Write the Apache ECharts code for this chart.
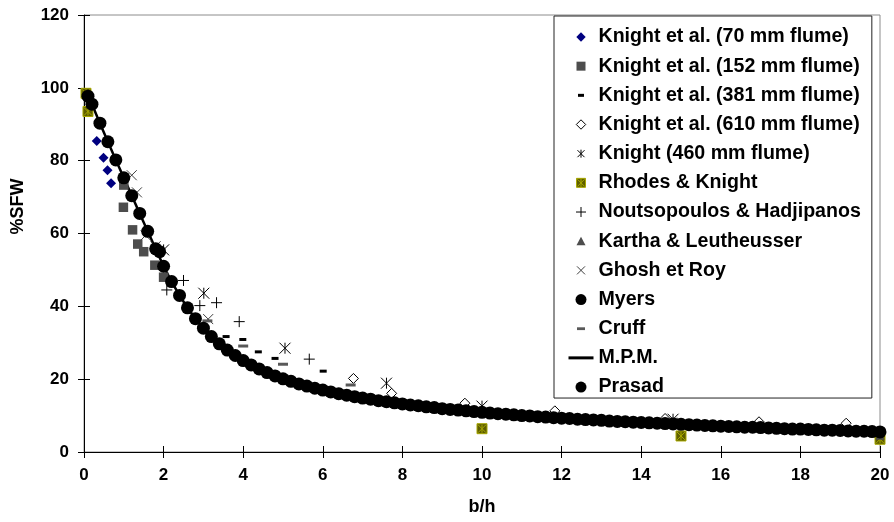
<!DOCTYPE html>
<html><head><meta charset="utf-8">
<script src="https://cdn.jsdelivr.net/npm/echarts@6/dist/echarts.min.js"></script>
<style>html,body{margin:0;padding:0;background:#fff}#c{width:894px;height:522px}</style>
</head><body><div id="c"></div>
<script>
// ---------- data ----------
const xTicks = [0, 2, 4, 6, 8, 10, 12, 14, 16, 18, 20];
const yTicks = [0, 20, 40, 60, 80, 100, 120];
const seriesNames = ['Knight et al. (70 mm flume)', 'Knight et al. (152 mm flume)', 'Knight et al. (381 mm flume)',
  'Knight et al. (610 mm flume)', 'Knight (460 mm flume)', 'Rhodes & Knight', 'Noutsopoulos & Hadjipanos',
  'Kartha & Leutheusser', 'Ghosh et Roy', 'Myers', 'Cruff', 'M.P.M.', 'Prasad'];
const knight70 = [[0.32, 85.4], [0.49, 80.8], [0.59, 77.4], [0.68, 73.8]];
const knight152 = [[1.0, 73.3], [0.99, 67.2], [1.22, 61.0], [1.35, 57.1], [1.5, 55.0], [1.78, 51.3], [2.0, 48.0]];
const knight381 = [[3.57, 31.7], [3.99, 30.9], [4.38, 27.5], [4.8, 25.7], [6.01, 22.2]];
const knight610 = [[6.77, 20.2], [7.73, 16.1], [9.57, 13.4], [11.83, 11.3], [14.6, 9.2], [16.96, 8.3], [19.15, 7.9]];
const knight460 = [[2.0, 55.5], [3.01, 43.6], [5.05, 28.5], [7.6, 18.9], [10.0, 12.6], [14.8, 9.0]];
const rhodesKnight = [[0.05, 98.5], [0.1, 93.5], [10.0, 6.4], [15.0, 4.4], [20.0, 3.5]];
const noutsopoulos = [[2.08, 44.5], [2.5, 47.1], [2.91, 40.2], [3.33, 41.0], [3.9, 35.8], [5.66, 25.5]];
const kartha = [[20.0, 4.6]];
const ghosh = [[1.2, 76.0], [1.33, 71.3], [1.55, 59.5], [1.8, 56.5], [3.12, 36.5]];
const myers = [[0.1, 97.7], [1.9, 55.0]];
const cruff = [[3.1, 36.0], [4.0, 29.1], [5.0, 24.1], [6.7, 18.4], [10.0, 11.8], [14.8, 9.0]];
const mpmX = [0.05, 0.2, 0.4, 0.6, 0.8, 1.0, 1.2, 1.4, 1.6, 1.8, 2.0, 2.2, 2.4, 2.6, 2.8, 3.0, 3.4, 3.8, 4.2, 4.6, 5.0, 6.0, 7.0, 8.0, 9.0, 10.0, 12.0, 14.0, 16.0, 18.0, 20.0];
const mpmY = [99.0, 95.5, 90.3, 85.2, 80.2, 75.3, 70.4, 65.5, 60.6, 55.8, 51.0, 46.8, 43.0, 39.6, 36.6, 34.0, 29.7, 26.5, 23.9, 21.8, 20.1, 17.0, 14.8, 13.2, 11.9, 10.9, 9.3, 8.1, 7.1, 6.3, 5.5];
const prasadX = [0.2,0.4,0.6,0.8,1.0,1.2,1.4,1.6,1.8,2.0,2.2,2.4,2.6,2.8,3.0,3.2,3.4,3.6,3.8,4.0,
  4.2,4.4,4.6,4.8,5.0,5.2,5.4,5.6,5.8,6.0,6.2,6.4,6.6,6.8,7.0,7.2,7.4,7.6,7.8,8.0,
  8.2,8.4,8.6,8.8,9.0,9.2,9.4,9.6,9.8,10.0,10.2,10.4,10.6,10.8,11.0,11.2,11.4,11.6,11.8,12.0,
  12.2,12.4,12.6,12.8,13.0,13.2,13.4,13.6,13.8,14.0,14.2,14.4,14.6,14.8,15.0,15.2,15.4,15.6,15.8,16.0,
  16.2,16.4,16.6,16.8,17.0,17.2,17.4,17.6,17.8,18.0,18.2,18.4,18.6,18.8,19.0,19.2,19.4,19.6,19.8,20.0];
const prasadY = [95.5,90.3,85.2,80.2,75.3,70.4,65.5,60.6,55.8,51.0,46.8,43.0,39.6,36.6,34.0,31.7,29.7,28.0,26.5,25.1,
  23.9,22.8,21.8,20.9,20.1,19.4,18.7,18.1,17.5,17.0,16.5,16.0,15.6,15.2,14.8,14.5,14.1,13.8,13.5,13.2,
  12.9,12.7,12.4,12.2,11.9,11.7,11.5,11.3,11.1,10.9,10.7,10.5,10.4,10.2,10.0,9.9,9.7,9.6,9.4,9.3,
  9.2,9.0,8.9,8.8,8.7,8.5,8.4,8.3,8.2,8.1,8.0,7.9,7.8,7.7,7.6,7.5,7.4,7.3,7.2,7.1,
  7.0,6.9,6.8,6.8,6.7,6.6,6.5,6.4,6.3,6.3,6.2,6.1,6.0,6.0,5.9,5.8,5.7,5.7,5.6,5.5];

// ---------- styling ----------
const FONT = 'Arial, "Liberation Sans", sans-serif';
const BOX = 'M0,0L0,0M25,14L25,14';  // fixes the legend icon box at 25x14
const P = {
  asterisk: 'path://M0,0L10,10M10,0L0,10M5,0L5,10',
  plus: 'path://M5,0L5,10M0,5L10,5',
  cross: 'path://M0,0L10,10M10,0L0,10',
  rhodes: 'path://M0,0L10,0L10,10L0,10ZM1,1L9,9M9,1L1,9M5,1L5,9'
};
const ICON = {
  diamond: 'path://' + BOX + 'M12.5,2.3L17.2,7L12.5,11.7L7.8,7Z',
  square: 'path://' + BOX + 'M8,2.5L17,2.5L17,11.5L8,11.5Z',
  dash: 'path://' + BOX + 'M9.5,5.5L15.5,5.5L15.5,8.5L9.5,8.5Z',
  asterisk: 'path://' + BOX + 'M9,3.5L16,10.5M16,3.5L9,10.5M12.5,3L12.5,11',
  rhodes: 'path://' + BOX + 'M8,2.5L17,2.5L17,11.5L8,11.5ZM9,3.5L16,10.5M16,3.5L9,10.5M12.5,3L12.5,11',
  plus: 'path://' + BOX + 'M12.5,2L12.5,12M7.5,7L17.5,7',
  triangle: 'path://' + BOX + 'M12.5,2.5L17,11L8,11Z',
  cross: 'path://' + BOX + 'M8.5,3L16.5,11M16.5,3L8.5,11',
  circle: 'path://' + BOX + 'M7,7A5.5,5.5 0 1 0 18,7A5.5,5.5 0 1 0 7,7Z',
  cruff: 'path://' + BOX + 'M8.5,5.6L16.5,5.6L16.5,8.4L8.5,8.4Z'
};

function scatter(name, data, symbol, size, itemStyle) {
  return { name, type: 'scatter', data, symbol, symbolSize: size,
    itemStyle: Object.assign({ opacity: 1 }, itemStyle), z: 3 };
}
const pair = (xs, ys) => xs.map((x, i) => [x, ys[i]]);

const series = [
  scatter(seriesNames[0], knight70, 'diamond', 10, { color: '#000080' }),
  scatter(seriesNames[1], knight152, 'rect', 9.5, { color: '#4d4d4d' }),
  scatter(seriesNames[2], knight381, 'rect', [7, 3], { color: '#000' }),
  scatter(seriesNames[3], knight610, 'diamond', 10, { color: '#fff', borderColor: '#000', borderWidth: 1 }),
  scatter(seriesNames[4], knight460, P.asterisk, 11, { color: 'transparent', borderColor: '#000', borderWidth: 1 }),
  scatter(seriesNames[5], rhodesKnight, P.rhodes, 10, { color: '#5e5e00', borderColor: '#a8a800', borderWidth: 1 }),
  scatter(seriesNames[6], noutsopoulos, P.plus, 11, { color: 'transparent', borderColor: '#000', borderWidth: 1 }),
  scatter(seriesNames[7], kartha, 'triangle', 9, { color: '#4d4d4d' }),
  scatter(seriesNames[8], ghosh, P.cross, 10, { color: 'transparent', borderColor: '#404040', borderWidth: 1 }),
  scatter(seriesNames[9], myers, 'circle', 13, { color: '#000' }),
  scatter(seriesNames[10], cruff, 'rect', [10, 3], { color: '#595959' }),
  { name: seriesNames[11], type: 'line', data: pair(mpmX, mpmY), symbol: 'none', smooth: false,
    lineStyle: { color: '#000', width: 2.5 }, itemStyle: { color: '#000' }, z: 3 },
  scatter(seriesNames[12], pair(prasadX, prasadY), 'circle', 13, { color: '#000' })
];

const fillIt = (c) => ({ color: c, borderWidth: 0, opacity: 1 });
const strokeIt = (c, f) => ({ color: f || 'transparent', borderColor: c, borderWidth: 1, opacity: 1 });
const legendData = [
  { name: seriesNames[0], icon: ICON.diamond, itemStyle: fillIt('#000080') },
  { name: seriesNames[1], icon: ICON.square, itemStyle: fillIt('#4d4d4d') },
  { name: seriesNames[2], icon: ICON.dash, itemStyle: fillIt('#000') },
  { name: seriesNames[3], icon: ICON.diamond, itemStyle: strokeIt('#000', '#fff') },
  { name: seriesNames[4], icon: ICON.asterisk, itemStyle: strokeIt('#000') },
  { name: seriesNames[5], icon: ICON.rhodes, itemStyle: strokeIt('#a8a800', '#5e5e00') },
  { name: seriesNames[6], icon: ICON.plus, itemStyle: strokeIt('#000') },
  { name: seriesNames[7], icon: ICON.triangle, itemStyle: fillIt('#4d4d4d') },
  { name: seriesNames[8], icon: ICON.cross, itemStyle: strokeIt('#404040') },
  { name: seriesNames[9], icon: ICON.circle, itemStyle: fillIt('#000') },
  { name: seriesNames[10], icon: ICON.cruff, itemStyle: fillIt('#595959') },
  { name: seriesNames[11], lineStyle: { width: 3, color: '#000' },
    itemStyle: { color: 'rgba(0,0,0,0)', borderWidth: 0, opacity: 0 } },
  { name: seriesNames[12], icon: ICON.circle, itemStyle: fillIt('#000') }
];

const labelStyle = { fontFamily: FONT, fontWeight: 'bold', fontSize: 17, color: '#000' };
const chart = echarts.init(document.getElementById('c'), null, { renderer: 'canvas' });
chart.setOption({
  animation: false,
  backgroundColor: '#fff',
  grid: { left: 84, right: 14, top: 15, bottom: 70, show: true, borderColor: '#8c8c8c', borderWidth: 1 },
  legend: {
    data: legendData, orient: 'vertical', left: 554, top: 16,
    itemWidth: 25, itemHeight: 14, itemGap: 9.17,
    padding: [11, 11, 1, 13],
    backgroundColor: '#fff', borderColor: '#222', borderWidth: 1,
    selectedMode: false,
    textStyle: { fontFamily: FONT, fontWeight: 'bold', fontSize: 19.6, lineHeight: 20, color: '#000' }
  },
  xAxis: [
    { type: 'value', min: xTicks[0], max: xTicks[xTicks.length - 1], interval: 2, position: 'bottom',
      name: 'b/h', nameLocation: 'middle', nameGap: 46,
      nameTextStyle: { fontFamily: FONT, fontWeight: 'bold', fontSize: 18, color: '#000' },
      axisLine: { show: true, onZero: false, lineStyle: { color: '#000', width: 1 } },
      axisTick: { show: true, inside: false, length: 6, lineStyle: { color: '#000' } },
      axisLabel: Object.assign({ margin: 15 }, labelStyle),
      splitLine: { show: false } },
    { type: 'value', min: xTicks[0], max: xTicks[xTicks.length - 1], interval: 2, position: 'bottom',
      axisLine: { show: false, onZero: false }, axisLabel: { show: false },
      axisTick: { show: true, inside: true, length: 6, lineStyle: { color: '#000' } },
      splitLine: { show: false } }
  ],
  yAxis: [
    { type: 'value', min: yTicks[0], max: yTicks[yTicks.length - 1], interval: 20, position: 'left',
      name: '%SFW', nameLocation: 'middle', nameGap: 57,
      nameTextStyle: { fontFamily: FONT, fontWeight: 'bold', fontSize: 18, color: '#000', padding: [0, 0, 0, 54] },
      axisLine: { show: true, onZero: false, lineStyle: { color: '#000', width: 1 } },
      axisTick: { show: true, inside: false, length: 6, lineStyle: { color: '#000' } },
      axisLabel: Object.assign({ margin: 15 }, labelStyle),
      splitLine: { show: false } },
    { type: 'value', min: yTicks[0], max: yTicks[yTicks.length - 1], interval: 20, position: 'left',
      axisLine: { show: false, onZero: false }, axisLabel: { show: false },
      axisTick: { show: true, inside: true, length: 6, lineStyle: { color: '#000' } },
      splitLine: { show: false } }
  ],
  series
});
</script></body></html>
